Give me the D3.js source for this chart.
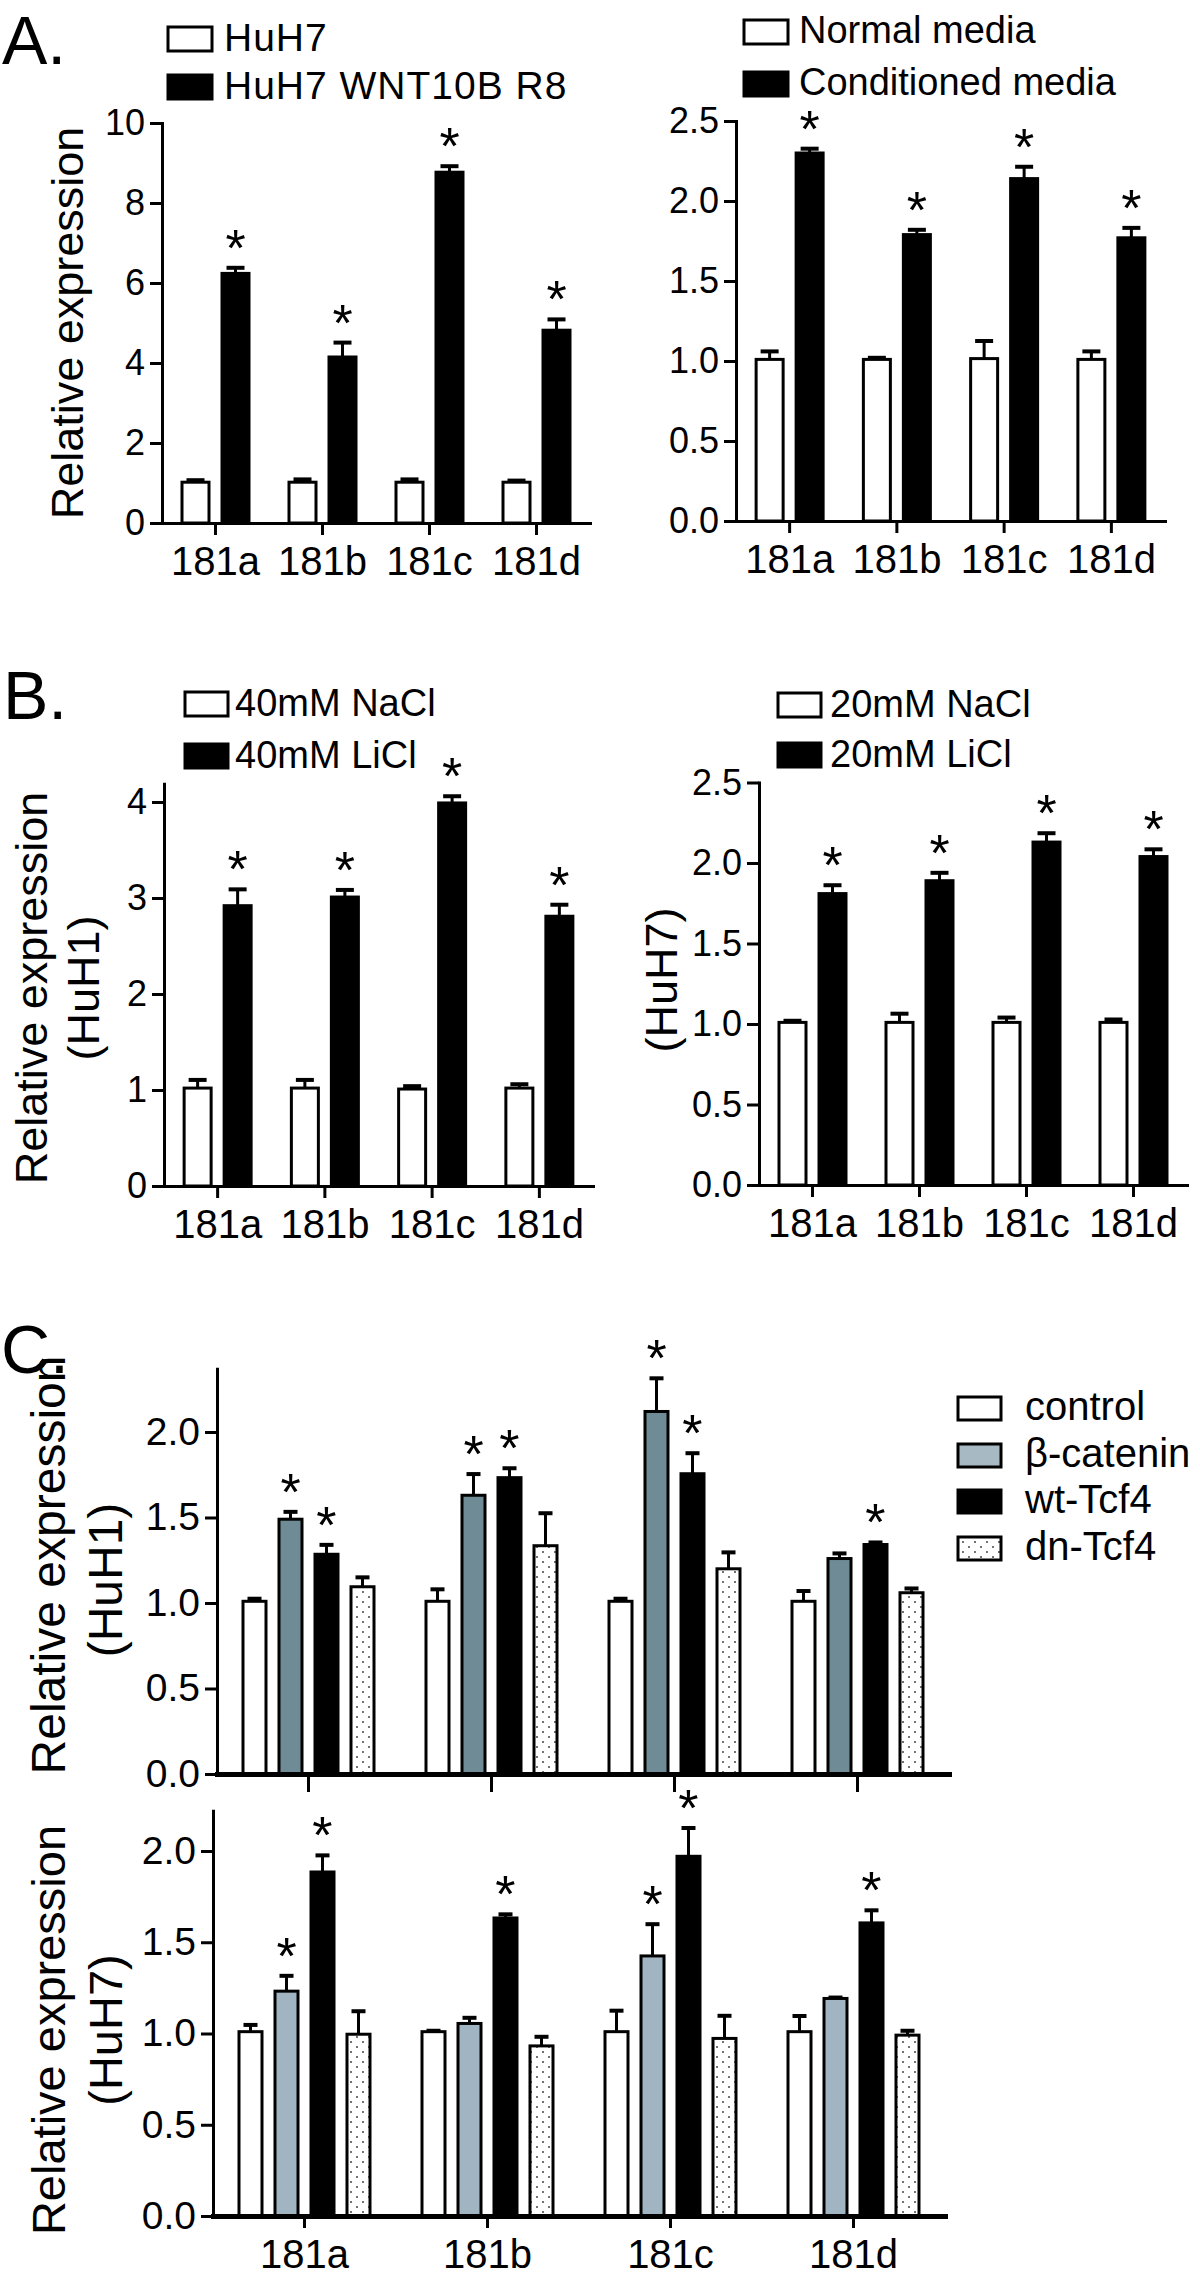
<!DOCTYPE html>
<html>
<head>
<meta charset="utf-8">
<script src="https://cdn.jsdelivr.net/npm/d3@7"></script>
<style>
  body { margin: 0; background: #fff; }
  svg { display: block; font-family: "Liberation Sans", Arial, sans-serif; }
</style>
</head>
<body>
<svg id="fig" width="1200" height="2282"></svg>
<script>
// categories shared by every panel
const GENES = ["181a", "181b", "181c", "181d"];

// A (left): HuH7 vs WNT10B
const A1_SERIES = ["HuH7", "HuH7 WNT10B R8"];
const A1_MEAN = [[1.02, 1.02, 1.02, 1.02], [6.24, 4.15, 8.77, 4.82]];
const A1_ERR = [[0.05, 0.07, 0.07, 0.04], [0.14, 0.36, 0.15, 0.27]];
const A1_STAR = [[0, 0, 0, 0], [1, 1, 1, 1]];
const A1_TICKS = [0, 2, 4, 6, 8, 10];

// A (right): normal vs conditioned media
const A2_SERIES = ["Normal media", "Conditioned media"];
const A2_MEAN = [[1.01, 1.01, 1.015, 1.01], [2.30, 1.79, 2.14, 1.77]];
const A2_ERR = [[0.05, 0.01, 0.11, 0.05], [0.027, 0.03, 0.074, 0.062]];
const A2_STAR = [[0, 0, 0, 0], [1, 1, 1, 1]];
const A2_TICKS = [0, 0.5, 1.0, 1.5, 2.0, 2.5];

// B (left): HuH1, NaCl vs LiCl
const B1_SERIES = ["40mM NaCl", "40mM LiCl"];
const B1_MEAN = [[1.02, 1.02, 1.01, 1.02], [2.92, 3.01, 3.99, 2.81]];
const B1_ERR = [[0.085, 0.085, 0.03, 0.04], [0.17, 0.074, 0.07, 0.12]];
const B1_STAR = [[0, 0, 0, 0], [1, 1, 1, 1]];
const B1_TICKS = [0, 1, 2, 3, 4];

// B (right): HuH7, NaCl vs LiCl
const B2_SERIES = ["20mM NaCl", "20mM LiCl"];
const B2_MEAN = [[1.01, 1.01, 1.01, 1.01], [1.81, 1.89, 2.13, 2.04]];
const B2_ERR = [[0.01, 0.054, 0.03, 0.018], [0.052, 0.049, 0.055, 0.045]];
const B2_STAR = [[0, 0, 0, 0], [1, 1, 1, 1]];
const B2_TICKS = [0, 0.5, 1.0, 1.5, 2.0, 2.5];

// C: control / beta-catenin / wt-Tcf4 / dn-Tcf4
const C_SERIES = ["control", "β-catenin", "wt-Tcf4", "dn-Tcf4"];
const C1_MEAN = [[1.01, 1.01, 1.01, 1.01], [1.49, 1.63, 2.12, 1.26], [1.285, 1.733, 1.756, 1.342], [1.095, 1.335, 1.2, 1.06]];
const C1_ERR = [[0.015, 0.07, 0.015, 0.06], [0.043, 0.124, 0.194, 0.03], [0.055, 0.055, 0.12, 0.012], [0.055, 0.19, 0.096, 0.025]];
const C1_STAR = [[0, 0, 0, 0], [1, 1, 1, 0], [1, 1, 1, 1], [0, 0, 0, 0]];
const C2_MEAN = [[1.01, 1.01, 1.01, 1.01], [1.232, 1.055, 1.425, 1.192], [1.885, 1.633, 1.971, 1.606], [0.996, 0.932, 0.973, 0.991]];
const C2_ERR = [[0.037, 0.005, 0.115, 0.086], [0.084, 0.031, 0.174, 0.005], [0.091, 0.02, 0.155, 0.069], [0.126, 0.05, 0.124, 0.024]];
const C2_STAR = [[0, 0, 0, 0], [1, 0, 1, 0], [1, 1, 1, 1], [0, 0, 0, 0]];
const C_TICKS = [0, 0.5, 1.0, 1.5, 2.0];

const svg = d3.select("#fig");

const defs = svg.append("defs");
const pat = defs.append("pattern")
  .attr("id", "dots")
  .attr("width", 12)
  .attr("height", 10)
  .attr("patternUnits", "userSpaceOnUse");
pat.append("rect").attr("width", 12).attr("height", 10).attr("fill", "#fff");
pat.append("circle").attr("cx", 3).attr("cy", 2).attr("r", 1).attr("fill", "#444");
pat.append("circle").attr("cx", 9).attr("cy", 7).attr("r", 1).attr("fill", "#444");

function drawPanel(p) {
  const g = svg.append("g");

  const x0 = d3.scaleBand().domain(GENES).range(p.xRange);
  const x1 = d3.scaleBand()
    .domain(d3.range(p.mean.length))
    .range([-p.groupW / 2, p.groupW / 2])
    .paddingInner(p.innerPad);
  const y = d3.scaleLinear().domain([0, p.yTop]).range([p.y0, p.y0 - p.yTop * p.unit]);

  p.mean.forEach(function(vals, s) {
    const rows = vals.map((v, i) => ({gene: GENES[i], v: v, e: p.err[s][i], star: p.star[s][i]}));
    const left = d => x0(d.gene) + x0.bandwidth() / 2 + x1(s);
    const mid = d => left(d) + x1.bandwidth() / 2;

    // error bar stem + cap (upper only)
    g.selectAll(null).data(rows).enter().append("line")
      .attr("x1", mid).attr("x2", mid)
      .attr("y1", d => y(d.v)).attr("y2", d => y(d.v + d.e))
      .attr("stroke", "#000").attr("stroke-width", 3);
    g.selectAll(null).data(rows).enter().append("line")
      .attr("x1", d => mid(d) - p.capW / 2).attr("x2", d => mid(d) + p.capW / 2)
      .attr("y1", d => y(d.v + d.e)).attr("y2", d => y(d.v + d.e))
      .attr("stroke", "#000").attr("stroke-width", 4);

    g.selectAll(null).data(rows).enter().append("rect")
      .attr("x", left)
      .attr("y", d => y(d.v))
      .attr("width", x1.bandwidth())
      .attr("height", d => y(0) - y(d.v))
      .attr("fill", p.fills[s])
      .attr("stroke", "#000")
      .attr("stroke-width", 3);

    g.selectAll(null).data(rows.filter(d => d.star)).enter().append("text")
      .attr("x", mid)
      .attr("y", d => y(d.v + d.e) - p.starLift)
      .attr("text-anchor", "middle")
      .attr("font-size", 52)
      .text("*");
  });

  const yAxis = d3.axisLeft(y)
    .tickValues(p.yTicks)
    .tickFormat(d3.format(p.yFmt))
    .tickSize(12)
    .tickPadding(5)
    .tickSizeOuter(0);
  const ya = g.append("g")
    .attr("transform", `translate(${p.xRange[0]},0)`)
    .call(yAxis);
  ya.attr("font-size", p.tickFont).attr("font-family", null);
  ya.selectAll("line").attr("stroke-width", 3);
  ya.select(".domain").attr("stroke-width", 3).attr("stroke-linecap", "square");

  const xAxis = d3.axisBottom(x0).tickSize(p.xTickLen).tickSizeOuter(0);
  if (!p.showLabels) xAxis.tickFormat("");
  const xa = g.append("g")
    .attr("transform", `translate(0,${y(0)})`)
    .call(xAxis);
  xa.attr("font-size", p.labelFont).attr("font-family", null);
  xa.selectAll("line").attr("stroke-width", 3);
  xa.select(".domain").attr("stroke-width", p.baseW).attr("stroke-linecap", "square");
  xa.selectAll("text").attr("dy", null).attr("y", p.labelDrop);

  p.title.forEach(function(t) {
    g.append("text")
      .attr("transform", `translate(${t.x},${t.cy}) rotate(-90)`)
      .attr("text-anchor", "middle")
      .attr("font-size", t.size)
      .text(t.text);
  });
}

function drawLegend(names, fills, lg) {
  const g = svg.append("g");
  names.forEach(function(name, i) {
    g.append("rect")
      .attr("x", lg.x)
      .attr("y", lg.tops[i])
      .attr("width", lg.w)
      .attr("height", lg.h)
      .attr("fill", fills[i])
      .attr("stroke", "#000")
      .attr("stroke-width", 3);
    g.append("text")
      .attr("x", lg.textX)
      .attr("y", lg.tops[i] + lg.h + lg.shift)
      .attr("font-size", lg.size)
      .attr("letter-spacing", lg.spacing || 0)
      .text(name);
  });
}

function panelLetter(txt, x, y) {
  svg.append("text").attr("x", x).attr("y", y).attr("font-size", 68).text(txt);
}

const BW = ["#fff", "#000"];

drawPanel({
  mean: A1_MEAN, err: A1_ERR, star: A1_STAR, fills: BW, showLabels: true,
  xRange: [162, 590], groupW: 67, innerPad: 0.325, capW: 18,
  y0: 523, unit: 40, yTop: 10, yTicks: A1_TICKS, yFmt: "d",
  tickFont: 36, labelFont: 40, xTickLen: 12, labelDrop: 52, baseW: 3, starLift: 2,
  title: [{text: "Relative expression", x: 83, cy: 323, size: 45}]
});
drawLegend(A1_SERIES, BW, {x: 168, tops: [27, 75], w: 44, h: 24, textX: 224, shift: 0, size: 39, spacing: 1});

drawPanel({
  mean: A2_MEAN, err: A2_ERR, star: A2_STAR, fills: BW, showLabels: true,
  xRange: [736, 1165], groupW: 67, innerPad: 0.325, capW: 18,
  y0: 521, unit: 160, yTop: 2.5, yTicks: A2_TICKS, yFmt: ".1f",
  tickFont: 36, labelFont: 40, xTickLen: 12, labelDrop: 52, baseW: 3, starLift: 2,
  title: []
});
drawLegend(A2_SERIES, BW, {x: 744, tops: [20, 72], w: 44, h: 24, textX: 799, shift: -1, size: 38});

drawPanel({
  mean: B1_MEAN, err: B1_ERR, star: B1_STAR, fills: BW, showLabels: true,
  xRange: [164, 593], groupW: 67, innerPad: 0.325, capW: 18,
  y0: 1186, unit: 96, yTop: 4.19, yTicks: B1_TICKS, yFmt: "d",
  tickFont: 36, labelFont: 40, xTickLen: 12, labelDrop: 52, baseW: 3, starLift: 2,
  title: [{text: "Relative expression", x: 47, cy: 988, size: 45},
          {text: "(HuH1)", x: 99, cy: 988, size: 45}]
});
drawLegend(B1_SERIES, BW, {x: 185, tops: [692, 744], w: 43, h: 24, textX: 235, shift: 0, size: 38});

drawPanel({
  mean: B2_MEAN, err: B2_ERR, star: B2_STAR, fills: BW, showLabels: true,
  xRange: [759, 1187], groupW: 67, innerPad: 0.325, capW: 18,
  y0: 1185, unit: 161, yTop: 2.5, yTicks: B2_TICKS, yFmt: ".1f",
  tickFont: 36, labelFont: 40, xTickLen: 12, labelDrop: 52, baseW: 3, starLift: 2,
  title: [{text: "(HuH7)", x: 677, cy: 980, size: 45}]
});
drawLegend(B2_SERIES, BW, {x: 778, tops: [693, 743], w: 43, h: 24, textX: 830, shift: 0, size: 38});

drawPanel({
  mean: C1_MEAN, err: C1_ERR, star: C1_STAR, fills: ["#fff", "#6f8c96", "#000", "url(#dots)"], showLabels: false,
  xRange: [217, 949], groupW: 131, innerPad: 0.361, capW: 14,
  y0: 1774, unit: 171, yTop: 2.37, yTicks: C_TICKS, yFmt: ".1f",
  tickFont: 39, labelFont: 40, xTickLen: 18, labelDrop: 52, baseW: 5, starLift: 2,
  title: [{text: "Relative expression", x: 65, cy: 1565, size: 48},
          {text: "(HuH1)", x: 122, cy: 1580, size: 48}]
});

drawPanel({
  mean: C2_MEAN, err: C2_ERR, star: C2_STAR, fills: ["#fff", "#a0b5c1", "#000", "url(#dots)"], showLabels: true,
  xRange: [213, 945], groupW: 131, innerPad: 0.361, capW: 14,
  y0: 2216, unit: 182.5, yTop: 2.22, yTicks: C_TICKS, yFmt: ".1f",
  tickFont: 39, labelFont: 40, xTickLen: 12, labelDrop: 52, baseW: 5, starLift: 2,
  title: [{text: "Relative expression", x: 65, cy: 2030, size: 47},
          {text: "(HuH7)", x: 122, cy: 2030, size: 47}]
});
drawLegend(C_SERIES, ["#fff", "#a7b9c3", "#000", "url(#dots)"],
  {x: 958, tops: [1397, 1444, 1490, 1537], w: 43, h: 23, textX: 1025, shift: 0, size: 40});

panelLetter("A.", 2, 64);
panelLetter("B.", 3, 719);
panelLetter("C.", 1, 1373);
</script>
</body>
</html>
